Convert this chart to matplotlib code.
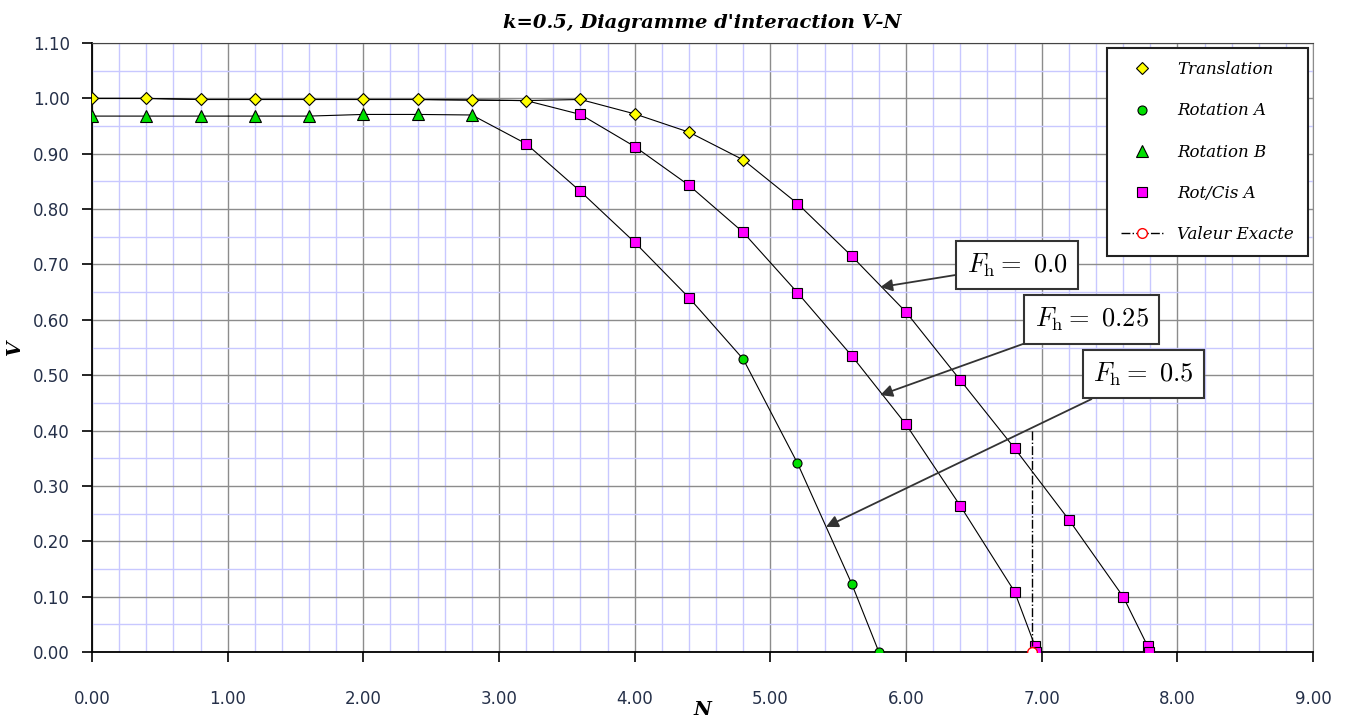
import numpy as np
import matplotlib
matplotlib.use('Agg')
import matplotlib.pyplot as plt
from matplotlib.ticker import MultipleLocator, FormatStrFormatter

plt.rcParams['mathtext.fontset'] = 'cm'

# données
trans_n = [0.0, 0.4, 0.8, 1.2, 1.6, 2.0, 2.4, 2.8, 3.2, 3.6, 4.0, 4.4, 4.8]
trans_v = [1.000, 1.000, 0.998, 0.998, 0.998, 0.998, 0.998, 0.997, 0.996, 0.998, 0.972, 0.939, 0.889]

rotA_n = [4.8, 5.2, 5.6, 5.8]
rotA_v = [0.529, 0.341, 0.123, 0.0]

rotB_n = [0.0, 0.4, 0.8, 1.2, 1.6, 2.0, 2.4, 2.8]
rotB_v = [0.968, 0.968, 0.968, 0.968, 0.968, 0.971, 0.971, 0.970]

# Rot/Cis A pour chaque Fh
cis0_n = [5.2, 5.6, 6.0, 6.4, 6.8, 7.2, 7.6, 7.78, 7.79]
cis0_v = [0.810, 0.715, 0.614, 0.491, 0.368, 0.239, 0.100, 0.011, 0.0]
cis25_n = [3.6, 4.0, 4.4, 4.8, 5.2, 5.6, 6.0, 6.4, 6.8, 6.95, 6.96]
cis25_v = [0.971, 0.913, 0.843, 0.758, 0.649, 0.535, 0.411, 0.264, 0.109, 0.011, 0.0]
cis5_n = [3.2, 3.6, 4.0, 4.4]
cis5_v = [0.918, 0.832, 0.740, 0.640]

exact_n = [6.93, 6.93]
exact_v = [0.40, 0.0]

fh_labels = ['0.0', '0.25', '0.5']
fh_text_pos = [(6.82, 0.699), (7.37, 0.601), (7.75, 0.502)]
fh_arrow_pos = [(5.81, 0.659), (5.81, 0.464), (5.41, 0.226)]

fig = plt.figure(figsize=(13.47, 7.23), dpi=100)
ax = fig.add_axes([0.0683, 0.0982, 0.9065, 0.8423])

# lignes des courbes (sans marqueurs)
line_kw = dict(color='black', lw=0.8, zorder=3)
ax.plot(trans_n + cis0_n, trans_v + cis0_v, **line_kw)
ax.plot(trans_n[:9] + cis25_n, trans_v[:9] + cis25_v, **line_kw)
ax.plot(rotB_n + cis5_n + rotA_n, rotB_v + cis5_v + rotA_v, **line_kw)

# marqueurs
ax.plot(trans_n, trans_v, ls='none', marker='D', ms=6.5, mfc='#ffff00', mec='black', mew=0.8,
        zorder=5, label='Translation')
ax.plot(rotA_n, rotA_v, ls='none', marker='o', ms=6.5, mfc='#00e000', mec='black', mew=0.8,
        zorder=5, label='Rotation A')
ax.plot(rotB_n, rotB_v, ls='none', marker='^', ms=8, mfc='#00e000', mec='black', mew=0.8,
        zorder=5, label='Rotation B')
ax.plot(cis0_n + cis25_n + cis5_n, cis0_v + cis25_v + cis5_v, ls='none', marker='s', ms=7.5,
        mfc='#ff00ff', mec='black', mew=0.8, zorder=5, label='Rot/Cis A')
ax.plot(exact_n, exact_v, color='black', ls='-.', lw=1.0, marker='o', ms=7, mfc='white',
        mec='red', mew=1.0, markevery=[1], zorder=6, label='Valeur Exacte')

# annotations Fh
for lab, (tx, ty), (px, py) in zip(fh_labels, fh_text_pos, fh_arrow_pos):
    ax.annotate(r'$F_{\rm h}=\ ' + lab + '$', xy=(px, py), xytext=(tx, ty),
                fontsize=19, ha='center', va='center', zorder=8,
                bbox=dict(boxstyle='square,pad=0.4', fc='white', ec='#333333', lw=1.5),
                arrowprops=dict(arrowstyle='-|>', color='#333333', lw=1.3,
                                mutation_scale=18, shrinkA=0, shrinkB=0))

ax.set_xlim(0, 9)
ax.set_ylim(0, 1.1)
ax.xaxis.set_major_locator(MultipleLocator(1.0))
ax.xaxis.set_minor_locator(MultipleLocator(0.2))
ax.yaxis.set_major_locator(MultipleLocator(0.1))
ax.yaxis.set_minor_locator(MultipleLocator(0.05))
ax.xaxis.set_major_formatter(FormatStrFormatter('%.2f'))
ax.yaxis.set_major_formatter(FormatStrFormatter('%.2f'))

ax.grid(which='minor', color='#c8c8ff', lw=1.0, zorder=0)
ax.grid(which='major', color='#8c8c8c', lw=1.0, zorder=1)
ax.set_axisbelow(True)

ax.tick_params(which='major', direction='out', length=7, width=1.2, labelsize=12,
               labelcolor='#253049')
ax.tick_params(axis='x', which='major', pad=20)
ax.tick_params(axis='y', which='major', pad=9)
ax.tick_params(which='minor', length=0)

for s in ['left', 'bottom']:
    ax.spines[s].set_linewidth(1.3)
    ax.spines[s].set_color('black')
ax.spines['top'].set_color('#444444')
ax.spines['right'].set_color('#8c8c8c')

ax.set_xlabel('N', fontsize=14, fontweight='bold', style='italic', family='DejaVu Serif', labelpad=-5)
ax.set_ylabel('V', fontsize=14, fontweight='bold', style='italic', family='DejaVu Serif')
ax.yaxis.set_label_coords(-0.056, 0.5)
ax.set_title("k=0.5, Diagramme d'interaction V-N", fontsize=14, fontweight='bold',
             style='italic', family='DejaVu Serif', pad=11)

leg = ax.legend(loc='upper right', bbox_to_anchor=(0.9955, 0.992), fancybox=False,
                framealpha=1, edgecolor='#222222', labelspacing=1.45, borderpad=0.8,
                handlelength=2.6, handletextpad=0.8, borderaxespad=0,
                prop={'family': 'DejaVu Serif', 'style': 'italic', 'size': 12})
leg.get_frame().set_linewidth(1.5)
leg.set_zorder(10)

fig.savefig('out.png', dpi=100)
